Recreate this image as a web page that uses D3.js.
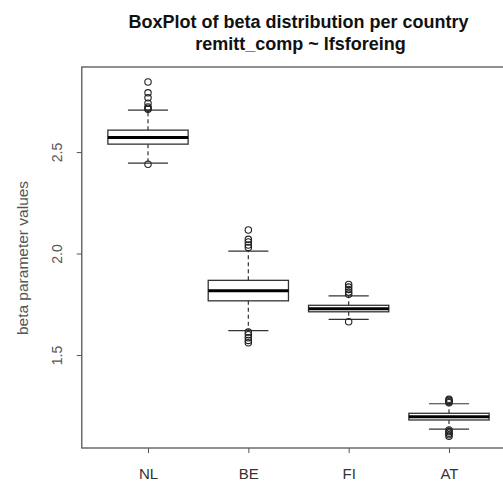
<!DOCTYPE html>
<html>
<head>
<meta charset="utf-8">
<script src="https://cdn.jsdelivr.net/npm/d3@7"></script>
<style>
  body { margin: 0; background: #fff; }
  text { font-family: "Liberation Sans", Arial, sans-serif; }
</style>
</head>
<body>
<script>
// values
var countries = ["NL", "BE", "FI", "AT"];
var lowerWhisker = [2.445, 1.620, 1.676, 1.135];
var q1 = [2.539, 1.767, 1.713, 1.180];
var medians = [2.572, 1.817, 1.728, 1.196];
var q3 = [2.608, 1.868, 1.745, 1.213];
var upperWhisker = [2.707, 2.012, 1.791, 1.260];
var outliers = [
  [2.845, 2.792, 2.767, 2.741, 2.722, 2.716, 2.711, 2.44],
  [2.116, 2.070, 2.057, 2.042, 2.030, 1.613, 1.600, 1.585, 1.572, 1.560],
  [1.848, 1.835, 1.823, 1.810, 1.800, 1.664],
  [1.282, 1.276, 1.270, 1.265, 1.131, 1.123, 1.115, 1.107, 1.100]
];
var yTicks = [1.5, 2.0, 2.5];

var width = 503, height = 483;
var svg = d3.select("body").append("svg")
  .attr("width", width)
  .attr("height", height);

// R boxplot coordinate system: positions 1..n, xlim 0.5..n+0.5 padded 4%
var x = d3.scaleLinear().domain([1, 4]).range([148, 449]);
var y = d3.scaleLinear().domain([1.042, 2.919]).range([448, 67]);
var xl = x(0.34), xr = x(4.66);

var boxes = countries.map(function (c, i) {
  return { name: c, i: i + 1, lo: lowerWhisker[i], q1: q1[i], med: medians[i],
           q3: q3[i], hi: upperWhisker[i], out: outliers[i] };
});

// plot frame
svg.append("rect")
  .attr("x", xl).attr("y", y.range()[1])
  .attr("width", xr - xl).attr("height", y.range()[0] - y.range()[1])
  .attr("fill", "none").attr("stroke", "#555").attr("stroke-width", 1.3);

var g = svg.selectAll(".box").data(boxes).enter().append("g").attr("class", "box");

// whiskers
g.append("line")
  .attr("x1", function (d) { return x(d.i); })
  .attr("x2", function (d) { return x(d.i); })
  .attr("y1", function (d) { return y(d.q3); })
  .attr("y2", function (d) { return y(d.hi); })
  .attr("stroke", "#333").attr("stroke-width", 1.2).attr("stroke-dasharray", "4,3");
g.append("line")
  .attr("x1", function (d) { return x(d.i); })
  .attr("x2", function (d) { return x(d.i); })
  .attr("y1", function (d) { return y(d.q1); })
  .attr("y2", function (d) { return y(d.lo); })
  .attr("stroke", "#333").attr("stroke-width", 1.2).attr("stroke-dasharray", "4,3");

// staples
["hi", "lo"].forEach(function (k) {
  g.append("line")
    .attr("x1", function (d) { return x(d.i - 0.2); })
    .attr("x2", function (d) { return x(d.i + 0.2); })
    .attr("y1", function (d) { return y(d[k]); })
    .attr("y2", function (d) { return y(d[k]); })
    .attr("stroke", "#333").attr("stroke-width", 1.2);
});

// boxes
g.append("rect")
  .attr("x", function (d) { return x(d.i - 0.4); })
  .attr("width", x(1.4) - x(0.6))
  .attr("y", function (d) { return y(d.q3); })
  .attr("height", function (d) { return y(d.q1) - y(d.q3); })
  .attr("fill", "#fff").attr("stroke", "#333").attr("stroke-width", 1.3);

// medians
g.append("line")
  .attr("x1", function (d) { return x(d.i - 0.4); })
  .attr("x2", function (d) { return x(d.i + 0.4); })
  .attr("y1", function (d) { return y(d.med); })
  .attr("y2", function (d) { return y(d.med); })
  .attr("stroke", "#000").attr("stroke-width", 3);

// outliers
g.selectAll("circle")
  .data(function (d) { return d.out.map(function (v) { return { i: d.i, v: v }; }); })
  .enter().append("circle")
  .attr("cx", function (d) { return x(d.i); })
  .attr("cy", function (d) { return y(d.v); })
  .attr("r", 3.2)
  .attr("fill", "none").attr("stroke", "#222").attr("stroke-width", 1.1);

// y axis (R style, labels parallel to axis)
var yAxis = svg.append("g").attr("transform", "translate(" + xl + ",0)")
  .call(d3.axisLeft(y).tickValues(yTicks).tickSize(5).tickFormat(d3.format(".1f")));
yAxis.select(".domain").remove();
yAxis.selectAll(".tick line").attr("stroke", "#555");
yAxis.selectAll(".tick text")
  .attr("x", 0).attr("dy", 0)
  .attr("transform", "translate(-20,0) rotate(-90)")
  .attr("text-anchor", "middle")
  .attr("fill", "#555")
  .style("font-size", "14px");

// x axis
var xAxis = svg.append("g").attr("transform", "translate(0," + y.range()[0] + ")")
  .call(d3.axisBottom(x).tickValues([1, 2, 3, 4]).tickSize(5)
    .tickFormat(function (d) { return countries[d - 1]; }));
xAxis.select(".domain").remove();
xAxis.selectAll(".tick line").attr("stroke", "#555");
xAxis.selectAll(".tick text")
  .attr("y", 31).attr("dy", 0)
  .attr("fill", "#333")
  .style("font-size", "15px");

// y title
svg.append("text")
  .attr("transform", "translate(28,258) rotate(-90)")
  .attr("text-anchor", "middle")
  .attr("fill", "#555")
  .style("font-size", "15.5px")
  .text("beta parameter values");

// title
var tx = (xl + xr) / 2;
svg.append("text").attr("x", tx).attr("y", 28)
  .attr("text-anchor", "middle").attr("font-weight", "bold")
  .attr("fill", "#111").style("font-size", "18px")
  .text("BoxPlot of beta distribution per country");
svg.append("text").attr("x", tx + 2).attr("y", 50)
  .attr("text-anchor", "middle").attr("font-weight", "bold")
  .attr("fill", "#111").style("font-size", "18px")
  .text("remitt_comp ~ lfsforeing");
</script>
</body>
</html>
